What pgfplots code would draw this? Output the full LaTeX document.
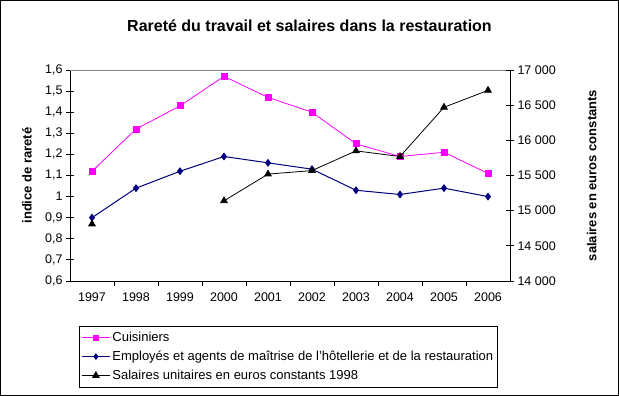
\documentclass[border=0pt]{standalone}
\usepackage{pgfplots}
\pgfplotsset{compat=1.18}
\usepackage{fontspec}
\setmainfont{Liberation Sans}
\definecolor{cuis}{RGB}{255,0,255}
\definecolor{empl}{RGB}{0,0,128}
\definecolor{frame}{RGB}{128,128,128}
\begin{document}
\begin{tikzpicture}
\useasboundingbox (0,0) rectangle (619pt,396pt);
\draw[black, line width=0.8pt] (0.5pt,0.5pt) rectangle (618.5pt,395.5pt);
\node[font=\bfseries\fontsize{16}{18}\selectfont] at (309.5pt,370pt) {Rareté du travail et salaires dans la restauration};

\pgfplotsset{
  every axis/.append style={
    at={(70pt,115pt)}, anchor=south west,
    scale only axis, width=440pt, height=211pt,
    xmin=-0.5, xmax=9.5,
    tick label style={font=\fontsize{12.5}{14}\selectfont},
    /pgf/number format/assume math mode=true,
    axis line style={line width=0.8pt},
    major tick length=8pt,
    ytick align=center,
    every tick/.style={black, line width=0.8pt},
  }
}

\begin{axis}[
  ymin=0.6, ymax=1.6,
  axis x line*=bottom, axis y line*=left,
  xtick={0,1,2,3,4,5,6,7,8,9},
  xticklabels={1997,1998,1999,2000,2001,2002,2003,2004,2005,2006},
  major x tick style={draw=none},
  minor xtick={0.5,1.5,2.5,3.5,4.5,5.5,6.5,7.5,8.5},
  minor tick length=5pt,
  xtick align=outside,
  ytick={0.6,0.7,0.8,0.9,1,1.1,1.2,1.3,1.4,1.5,1.6},
  yticklabel style={/pgf/number format/.cd, use comma, fixed, precision=1},
  ylabel={indice de rareté},
  ylabel style={font=\bfseries\fontsize{13}{15}\selectfont, at={(axis description cs:-0.098,0.5)}, anchor=center},
]
\draw[frame, line width=0.8pt] (rel axis cs:0,1) -- (rel axis cs:1,1);
\addplot[cuis, line width=0.8pt, mark=square*, mark size=3pt, mark options={solid, fill=cuis, draw=cuis}] coordinates {
(0,1.12)(1,1.32)(2,1.43)(3,1.57)(4,1.47)(5,1.40)(6,1.25)(7,1.19)(8,1.21)(9,1.11)};
\addplot[empl, line width=1pt, mark=diamond*, mark size=3.2pt, mark options={solid, fill=empl, draw=empl}] coordinates {
(0,0.90)(1,1.04)(2,1.12)(3,1.19)(4,1.16)(5,1.13)(6,1.03)(7,1.01)(8,1.04)(9,1.00)};
\end{axis}

\begin{axis}[
  ymin=14000, ymax=17000,
  axis x line=none, axis y line*=right,
  ytick={14000,14500,15000,15500,16000,16500,17000},
  scaled y ticks=false,
  yticklabel style={/pgf/number format/.cd, fixed, 1000 sep={\ }},
  ylabel={salaires en euros constants},
  ylabel style={font=\bfseries\fontsize{13}{15}\selectfont, at={(axis description cs:1.186,0.5)}, anchor=center},
  unbounded coords=jump,
  legend cell align=left,
  legend style={at={(0.02045,-0.212)}, anchor=north west, draw=black, line width=0.8pt,
    font=\fontsize{13}{15}\selectfont, row sep=4pt, inner xsep=2pt, inner ysep=4pt,
    /tikz/every even column/.append style={column sep=2pt}},
  legend image code/.code={\draw[mark repeat=2, mark phase=2] plot coordinates {(0pt,0pt) (14pt,0pt) (28pt,0pt)};},
]
\addlegendimage{cuis, line width=0.8pt, mark=square*, mark size=2.5pt, mark options={solid, fill=cuis, draw=cuis}}
\addlegendentry{Cuisiniers}
\addlegendimage{empl, line width=1pt, mark=diamond*, mark size=2.6pt, mark options={solid, fill=empl, draw=empl}}
\addlegendentry{Employés et agents de maîtrise de l'hôtellerie et de la restauration}
\addplot[black, line width=0.8pt, mark=triangle*, mark size=3.8pt, mark options={solid, fill=black}] coordinates {
(0,14810)(1,nan)(2,nan)(3,15140)(4,15520)(5,15570)(6,15850)(7,15770)(8,16470)(9,16710)};
\addlegendentry{Salaires unitaires en euros constants 1998}
\end{axis}
\end{tikzpicture}
\end{document}
